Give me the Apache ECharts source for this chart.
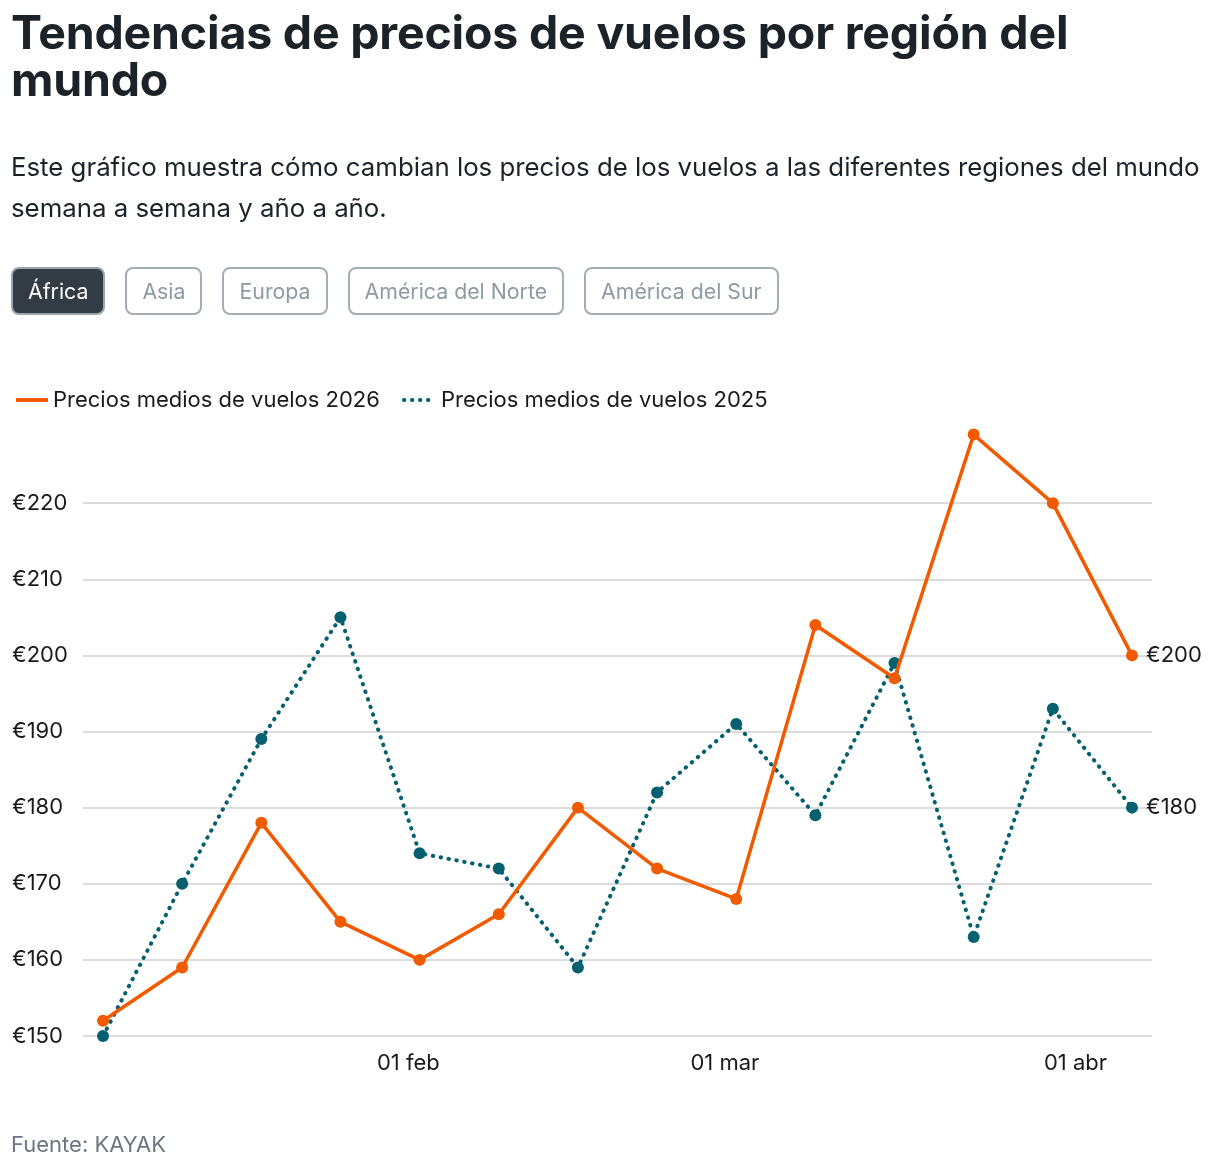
<!DOCTYPE html>
<html lang="es">
<head>
    <meta charset="UTF-8">
    <script type="text/javascript" src="https://cdn.jsdelivr.net/npm/echarts@6.0.0/dist/echarts.min.js"></script>
    <style>
        html, body {
            margin: 0;
            overflow: hidden;
            background: #fff;
            font-family: Inter, "Noto Sans", sans-serif;
            color: #1b2328;
        }
        #viewport {
            position: absolute;
            left: 0;
            top: 0;
            width: 1220px;
            height: 1172px;
        }
        .head {
            position: absolute;
            left: 11px;
            top: 9px;
            width: 1140px;
            z-index: 2;
        }
        h1 {
            margin: 0;
            font-size: 46.5px;
            line-height: 47px;
            font-weight: 700;
            letter-spacing: -0.2px;
        }
        p.sub {
            margin: 43px 0 0 0;
            font-size: 25.8px;
            line-height: 41px;
            width: 1209px;
        }
        .tabs {
            position: absolute;
            left: 11px;
            top: 267px;
            z-index: 2;
            display: flex;
            gap: 20px;
        }
        .tabs span {
            box-sizing: border-box;
            height: 48px;
            line-height: 44px;
            padding: 0 15px;
            border: 2px solid #a3adb5;
            border-radius: 8px;
            font-size: 21.3px;
            color: #8e9aa3;
        }
        .tabs span.on {
            background: #333c44;
            border-color: #9aa6ae;
            color: #fff;
        }
        .src {
            position: absolute;
            left: 11px;
            top: 1131px;
            font-size: 22px;
            color: #6b7680;
            z-index: 2;
        }
    </style>
</head>
<body>
<div id="viewport"></div>
<div class="head">
    <h1>Tendencias de precios de vuelos por región del mundo</h1>
    <p class="sub">Este gráfico muestra cómo cambian los precios de los vuelos a las diferentes regiones del mundo semana a semana y año a año.</p>
</div>
<div class="tabs">
    <span class="on">África</span><span>Asia</span><span>Europa</span><span>América del Norte</span><span>América del Sur</span>
</div>
<div class="src">Fuente: KAYAK</div>
<script>
    // weekly points (Monday of each week)
    var weeks = ['2026-01-05', '2026-01-12', '2026-01-19', '2026-01-26', '2026-02-02', '2026-02-09', '2026-02-16',
        '2026-02-23', '2026-03-02', '2026-03-09', '2026-03-16', '2026-03-23', '2026-03-30', '2026-04-06'];
    var prices2026 = [152, 159, 178, 165, 160, 166, 180, 172, 168, 204, 197, 229, 220, 200];
    var prices2025 = [150, 170, 189, 205, 174, 172, 159, 182, 191, 179, 199, 163, 193, 180];
    var seriesNames = ['Precios medios de vuelos 2026', 'Precios medios de vuelos 2025'];
    var monthTicks = ['2026-02-01', '2026-03-01', '2026-04-01'];
    var monthNames = ['ene', 'feb', 'mar', 'abr', 'may', 'jun', 'jul', 'ago', 'sep', 'oct', 'nov', 'dic'];

    var DAY = 24 * 3600 * 1000;
    function ts(s) {
        var p = s.split('-');
        return Date.UTC(+p[0], +p[1] - 1, +p[2]);
    }
    var tickValues = monthTicks.map(ts);
    function pairs(vals) {
        return weeks.map(function (w, i) {
            return [ts(w), vals[i]];
        });
    }

    var myChart = echarts.init(document.getElementById('viewport'));
    var txt = '#1a1a1a';
    var font = 'Inter, "Noto Sans", sans-serif';
    var fs = 22;

    function endLabel() {
        return {
            show: true,
            distance: 14,
            fontSize: fs,
            color: txt,
            fontFamily: font,
            formatter: function (p) { return '€' + p.value[1]; }
        };
    }

    var option = {
        animation: false,
        textStyle: { fontFamily: font },
        legend: {
            left: 14,
            top: 389,
            padding: 0,
            itemWidth: 32,
            itemHeight: 14,
            itemGap: 22,
            itemStyle: { opacity: 0 },
            lineStyle: { width: 4 },
            textStyle: { fontSize: fs, color: txt, fontFamily: font },
            data: seriesNames
        },
        grid: {
            left: 83,
            right: 68,
            top: 427,
            bottom: 136,
            containLabel: false
        },
        xAxis: {
            type: 'value',
            min: function (v) { return v.min - 1.77 * DAY; },
            max: function (v) { return v.max + 1.77 * DAY; },
            axisLine: { show: false },
            axisTick: { show: false },
            splitLine: { show: false },
            axisLabel: {
                customValues: tickValues,
                margin: 16,
                fontSize: fs,
                color: txt,
                fontFamily: font,
                formatter: function (val) {
                    var d = new Date(val);
                    var dd = d.getUTCDate();
                    return (dd < 10 ? '0' + dd : dd) + ' ' + monthNames[d.getUTCMonth()];
                }
            }
        },
        yAxis: {
            type: 'value',
            min: 150,
            max: 230,
            interval: 10,
            axisLine: { show: false },
            axisTick: { show: false },
            splitLine: {
                showMaxLine: false,
                lineStyle: { color: '#dcdcdc', width: 2 }
            },
            axisLabel: {
                showMaxLabel: false,
                align: 'left',
                margin: 71,
                fontSize: fs,
                color: txt,
                fontFamily: font,
                formatter: '€{value}'
            }
        },
        series: [
            {
                name: seriesNames[0],
                type: 'line',
                data: pairs(prices2026),
                symbol: 'circle',
                symbolSize: 12,
                z: 3,
                itemStyle: { color: '#f25a00' },
                lineStyle: { color: '#f25a00', width: 3.5 },
                endLabel: endLabel()
            },
            {
                name: seriesNames[1],
                type: 'line',
                data: pairs(prices2025),
                symbol: 'circle',
                symbolSize: 12,
                z: 2,
                itemStyle: { color: '#07606f' },
                lineStyle: { color: '#07606f', width: 4, type: [0.5, 7.5], cap: 'round' },
                endLabel: endLabel()
            }
        ]
    };
    myChart.setOption(option);
</script>
</body>
</html>
